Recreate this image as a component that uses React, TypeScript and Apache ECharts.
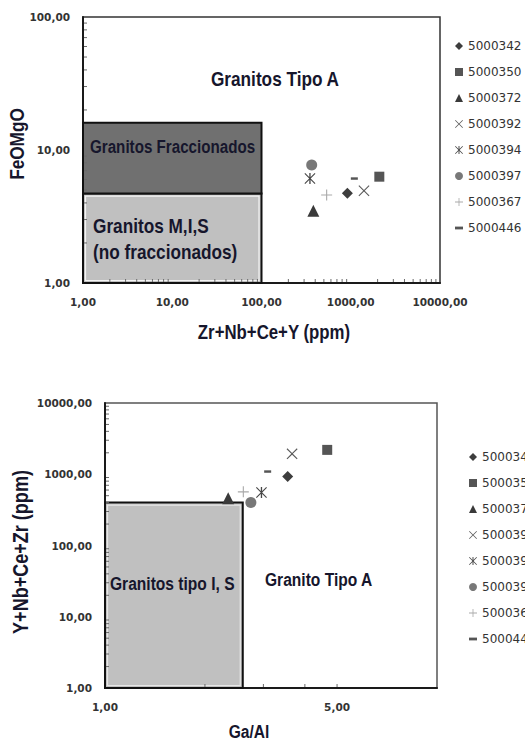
import React, { useEffect, useRef } from "react";
import * as echarts from "echarts";

// ---------- data ----------
const SAMPLES = ["5000342", "5000350", "5000372", "5000392", "5000394", "5000397", "5000367", "5000446"];
// Top diagram: Zr+Nb+Ce+Y (ppm) vs FeO/MgO
const TOP_X = [916, 2090, 381, 1407, 349, 365, 537, 1097];
const TOP_Y = [4.73, 6.3, 3.5, 4.94, 6.1, 7.7, 4.59, 6.1];
// Bottom diagram: Ga/Al vs Y+Nb+Ce+Zr (ppm)
const BOT_X = [3.55, 4.67, 2.35, 3.66, 2.96, 2.75, 2.61, 3.09];
const BOT_Y = [929, 2198, 462, 1932, 554, 401, 566, 1091];

// Fields [xMin, yMin, xMax, yMax]
const FIELD_FRACTIONATED = [1, 4.7, 100, 16];
const FIELD_MIS = [1, 1, 100, 4.7];
const FIELD_IS = [1, 1, 2.6, 400];

// Axis ranges
const TOP_X_RANGE = [1, 10000];
const TOP_Y_RANGE = [1, 100];
const BOT_X_RANGE = [1, 10];
const BOT_Y_RANGE = [1, 10000];

// Minor tick positions (axis decoration)
const MINOR = [2, 3, 4, 5, 6, 7, 8, 9];
const TOP_X_DECADES = [1, 10, 100, 1000];
const TOP_Y_DECADES = [1, 10];
const BOT_X_MINOR = [2, 3, 4, 5];
const BOT_Y_DECADES = [1, 10, 100, 1000];

// ---------- styles ----------
const LABEL_FONT = "'Liberation Sans', Arial, sans-serif";
const NARROW_SCALE = 0.82;
const TEXT_DARK = "#16162c";

const X_PATH = "path://M0,7L7,0L50,43L93,0L100,7L57,50L100,93L93,100L50,57L7,100L0,93L43,50Z";
const AST_PATH =
  "path://M0,7L7,0L50,43L93,0L100,7L57,50L100,93L93,100L50,57L7,100L0,93L43,50Z M44,0L56,0L56,100L44,100Z";
const PLUS_PATH = "path://M45,0L55,0L55,45L100,45L100,55L55,55L55,100L45,100L45,55L0,55L0,45L45,45Z";
const DASH_PATH = "path://M0,0L100,0L100,35L0,35Z";

const SYMBOLS = ["diamond", "rect", "triangle", X_PATH, AST_PATH, "circle", PLUS_PATH, DASH_PATH];
const SIZES = [11, 10, 12, 11, 11, 11, 11, 7];
const COLORS = ["#3d3d3d", "#555555", "#3a3a3a", "#5a5a5a", "#474747", "#787878", "#a9a9a9", "#555555"];

const fmt = (v: number) => Number(v).toFixed(2).replace(".", ",");

function buildTicks(decades: number[], mult: number[]) {
  const out: number[] = [];
  decades.forEach((d) => mult.forEach((m) => out.push(d * m)));
  return out;
}

function tickSeries(xi: number, xVals: number[], yVals: number[], xMin: number, yMin: number) {
  return {
    type: "custom",
    xAxisIndex: xi,
    yAxisIndex: xi,
    silent: true,
    clip: false,
    z: 4,
    data: [[xMin, yMin]],
    renderItem: (_p: any, api: any) => {
      const children: any[] = [];
      xVals.forEach((v) => {
        const p = api.coord([v, yMin]);
        children.push({
          type: "line",
          shape: { x1: p[0], y1: p[1] - 1, x2: p[0], y2: p[1] - 4 },
          style: { stroke: "#6a6a6a", lineWidth: 1 },
        });
      });
      yVals.forEach((v) => {
        const p = api.coord([xMin, v]);
        children.push({
          type: "line",
          shape: { x1: p[0] + 1, y1: p[1], x2: p[0] + 4, y2: p[1] },
          style: { stroke: "#6a6a6a", lineWidth: 1 },
        });
      });
      return { type: "group", children };
    },
  };
}

function boxSeries(xi: number, box: number[], fill: string, inner: string | null) {
  return {
    type: "custom",
    xAxisIndex: xi,
    yAxisIndex: xi,
    silent: true,
    clip: false,
    z: 1,
    data: [box],
    encode: { x: [0, 2], y: [1, 3] },
    renderItem: (_p: any, api: any) => {
      const a = api.coord([api.value(0), api.value(1)]);
      const b = api.coord([api.value(2), api.value(3)]);
      const x = Math.min(a[0], b[0]);
      const y = Math.min(a[1], b[1]);
      const w = Math.abs(b[0] - a[0]);
      const h = Math.abs(b[1] - a[1]);
      const children: any[] = [
        { type: "rect", shape: { x, y, width: w, height: h }, style: { fill, stroke: "#111", lineWidth: 2 } },
      ];
      if (inner) {
        children.push({
          type: "rect",
          shape: { x: x + 2.5, y: y + 2.5, width: w - 5, height: h - 5 },
          style: { fill: "none", stroke: inner, lineWidth: 1.2 },
        });
      }
      return { type: "group", children };
    },
  };
}

function scatterSeries(xi: number, xs: number[], ys: number[]) {
  return SAMPLES.map((name, i) => ({
    type: "scatter",
    name,
    xAxisIndex: xi,
    yAxisIndex: xi,
    symbol: SYMBOLS[i],
    symbolSize: SIZES[i],
    symbolKeepAspect: true,
    itemStyle: { color: COLORS[i], opacity: 1 },
    z: 5,
    data: [[xs[i], ys[i]]],
  }));
}

const axisLabelStyle = {
  fontFamily: "DejaVu Sans",
  fontWeight: "bold" as const,
  fontSize: 10.5,
  color: "#333",
};

function logAxis(gi: number, range: number[], extra: any = {}) {
  return {
    type: "log",
    gridIndex: gi,
    min: range[0],
    max: range[1],
    logBase: 10,
    axisLine: { show: true, lineStyle: { color: "#1a1a1a", width: 2 } },
    axisTick: { show: false },
    splitLine: { show: false },
    axisLabel: { ...axisLabelStyle, margin: 13, formatter: (v: number) => fmt(v) },
    ...extra,
  };
}

function legend(left: number, top: number) {
  return {
    data: SAMPLES,
    orient: "vertical",
    left,
    top,
    padding: 0,
    itemWidth: 8,
    itemHeight: 8,
    itemGap: 14,
    selectedMode: false,
    textStyle: { fontFamily: "DejaVu Sans", fontSize: 12, color: "#333333" },
  };
}

function label(text: string, x: number, y: number, size: number, align = "left", rotate = 0) {
  return {
    type: "text",
    x,
    y,
    rotation: rotate,
    scaleX: NARROW_SCALE,
    silent: true,
    z: 10,
    style: {
      text,
      fill: TEXT_DARK,
      fontFamily: LABEL_FONT,
      fontWeight: "bold",
      fontSize: size,
      align,
      verticalAlign: "middle",
    },
  };
}

const option: any = {
  animation: false,
  backgroundColor: "#ffffff",
  grid: [
    { left: 83, top: 17, width: 357, height: 266, show: true, borderColor: "#333", borderWidth: 1.5 },
    { left: 105, top: 403, width: 332, height: 285, show: true, borderColor: "#555", borderWidth: 1.5 },
  ],
  xAxis: [
    logAxis(0, TOP_X_RANGE),
    logAxis(1, BOT_X_RANGE, {
      logBase: 5,
      axisLabel: { ...axisLabelStyle, margin: 13, showMaxLabel: false, formatter: (v: number) => fmt(v) },
    }),
  ],
  yAxis: [logAxis(0, TOP_Y_RANGE), logAxis(1, BOT_Y_RANGE)],
  legend: [legend(455, 40), legend(469, 451)],
  series: [
    boxSeries(0, FIELD_MIS, "#c0c0c0", "#f4f4f4"),
    boxSeries(0, FIELD_FRACTIONATED, "#707070", null),
    boxSeries(1, FIELD_IS, "#c0c0c0", "#e6e6e6"),
    tickSeries(0, buildTicks(TOP_X_DECADES, MINOR), buildTicks(TOP_Y_DECADES, MINOR), TOP_X_RANGE[0], TOP_Y_RANGE[0]),
    tickSeries(1, BOT_X_MINOR, buildTicks(BOT_Y_DECADES, MINOR), BOT_X_RANGE[0], BOT_Y_RANGE[0]),
    ...scatterSeries(0, TOP_X, TOP_Y),
    ...scatterSeries(1, BOT_X, BOT_Y),
  ],
  graphic: [
    label("Granitos Tipo A", 275, 79, 21, "center"),
    label("Granitos Fraccionados", 90, 147, 18.5),
    label("Granitos M,I,S", 93, 226, 21),
    label("(no fraccionados)", 93, 252, 21),
    label("Granitos tipo I, S", 110, 583, 19),
    label("Granito Tipo A", 265, 579, 19),
    label("FeOMgO", 17, 144, 21, "center", Math.PI / 2),
    label("Zr+Nb+Ce+Y (ppm)", 274, 332, 20.5, "center"),
    label("Y+Nb+Ce+Zr (ppm)", 20, 552, 22, "center", Math.PI / 2),
    label("Ga/Al", 249, 731, 19, "center"),
  ],
};

export default function App() {
  const ref = useRef<HTMLDivElement>(null);
  useEffect(() => {
    document.body.style.margin = "0";
    const chart = echarts.init(ref.current as HTMLDivElement, null, { renderer: "svg" });
    chart.setOption(option);
    return () => chart.dispose();
  }, []);
  return <div ref={ref} style={{ width: 525, height: 742 }} />;
}
